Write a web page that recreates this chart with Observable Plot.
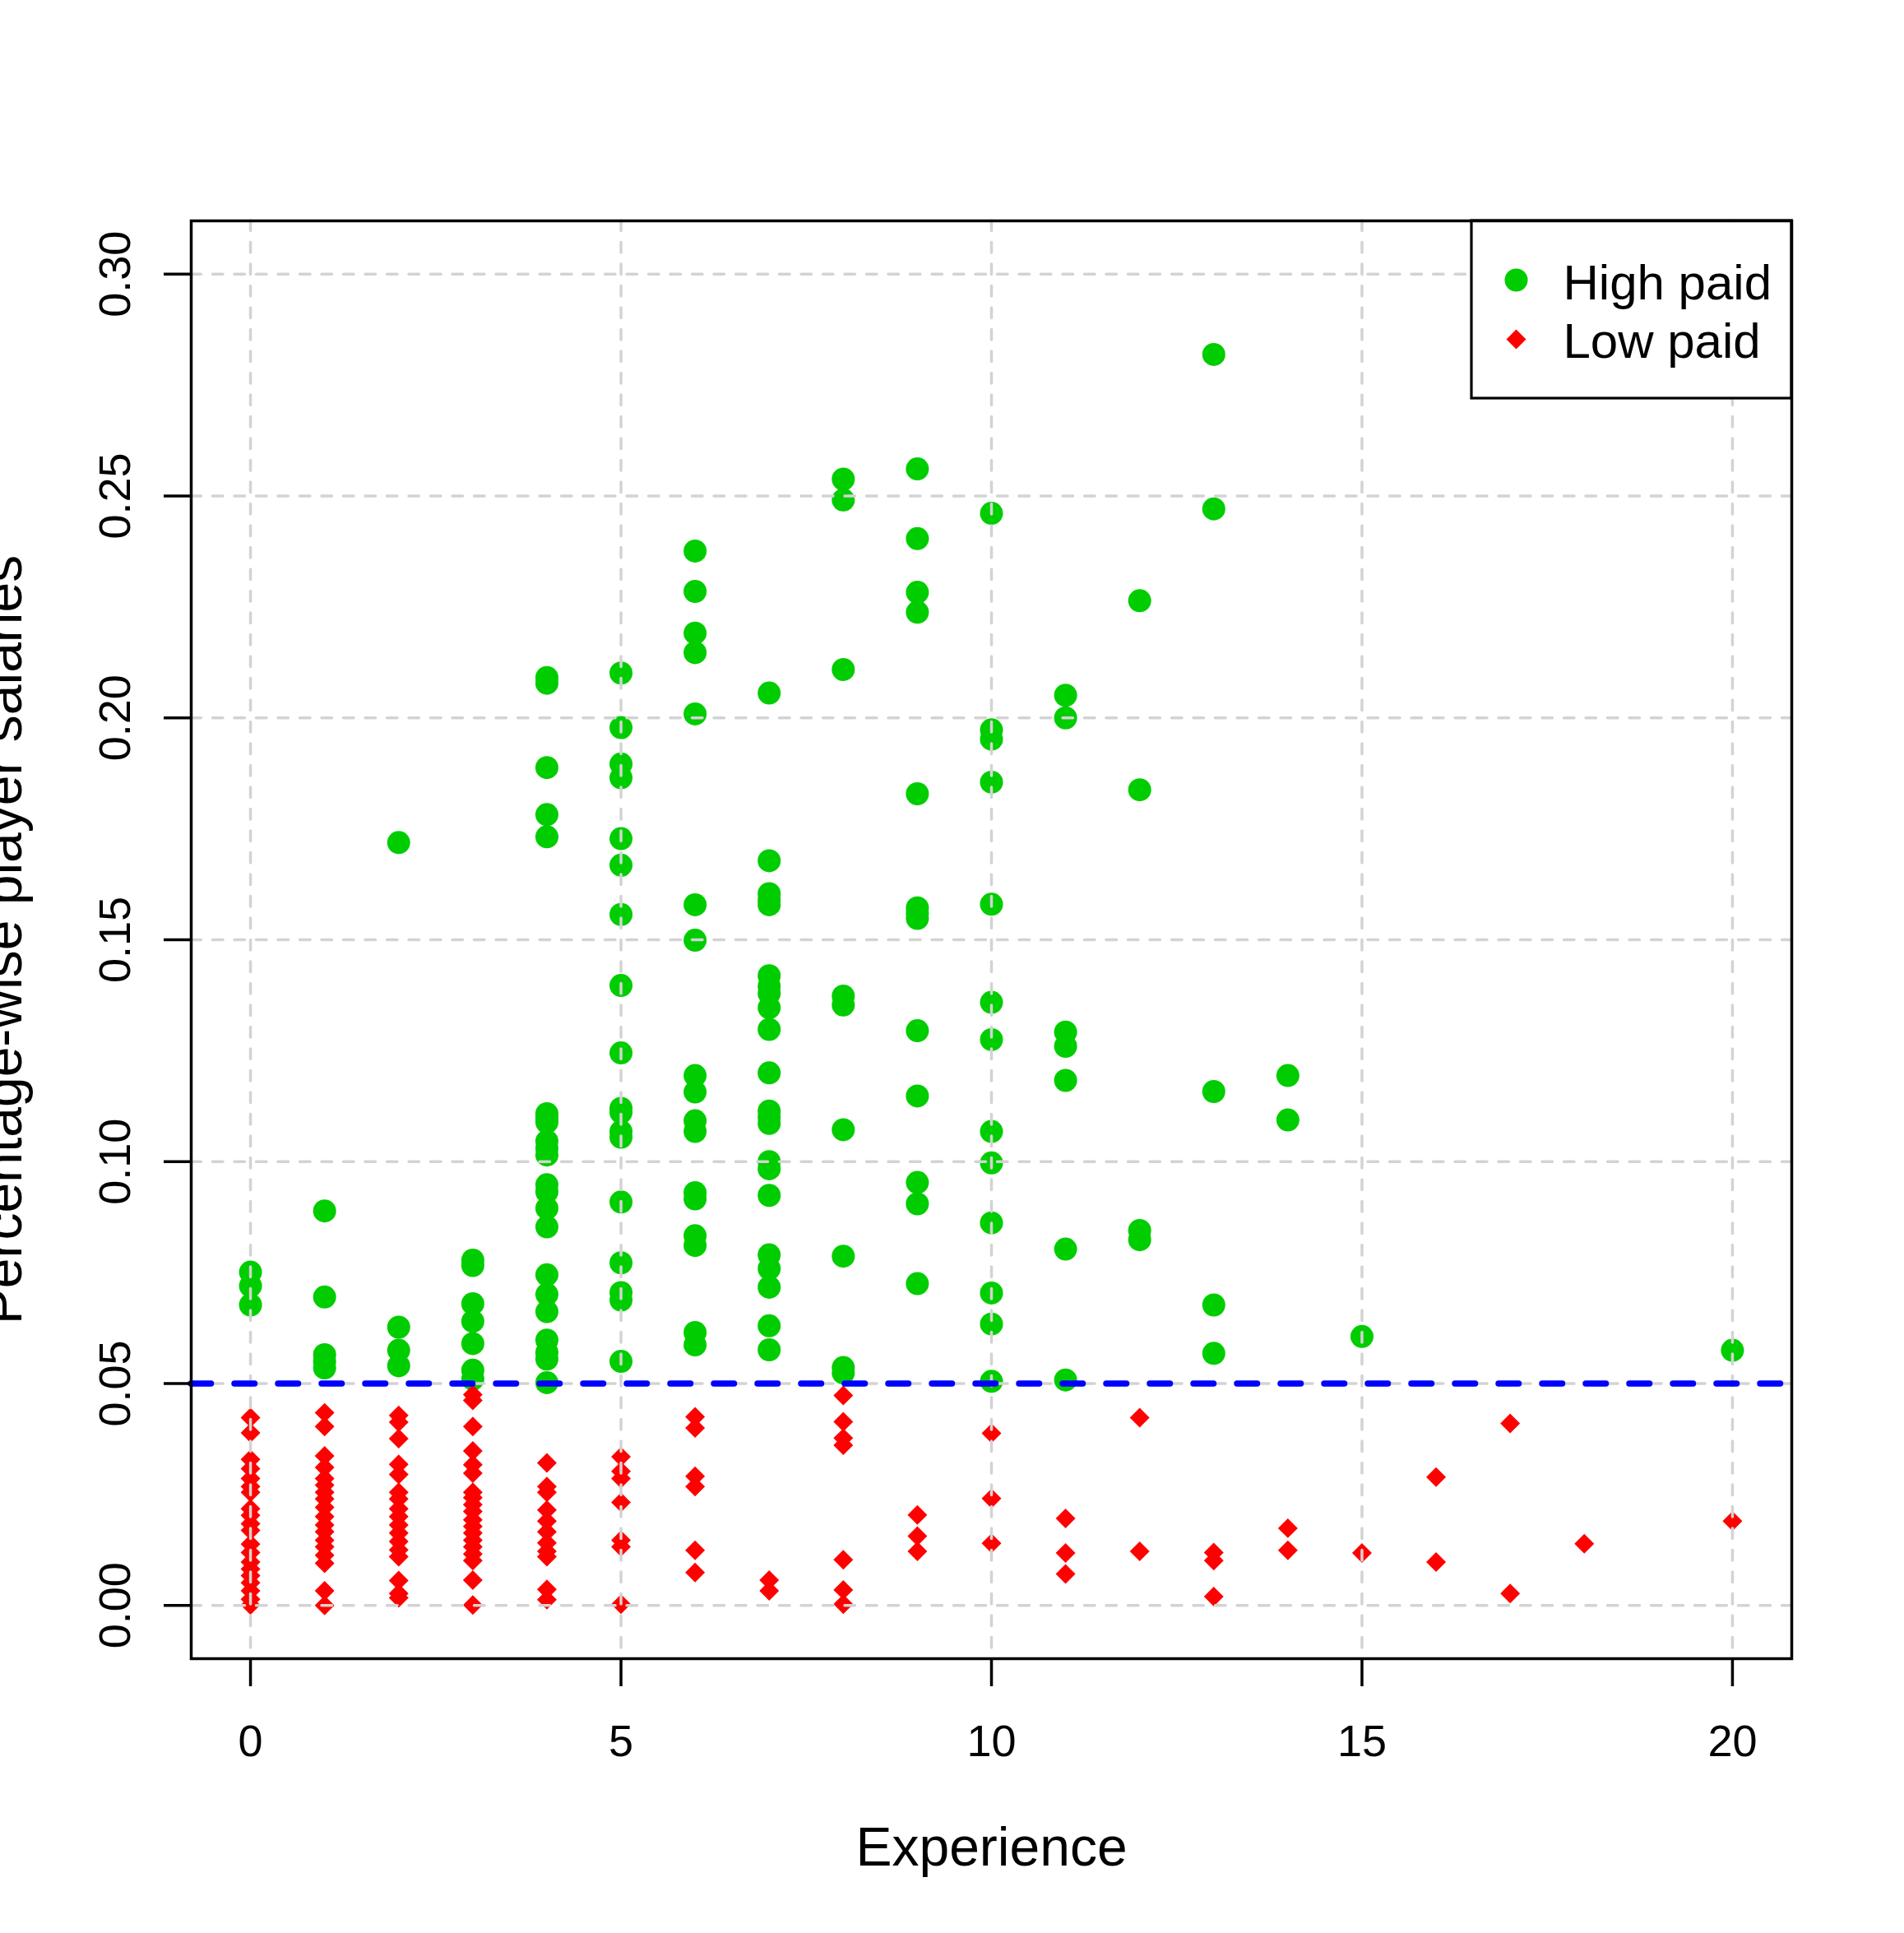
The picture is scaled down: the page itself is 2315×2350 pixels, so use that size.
<!DOCTYPE html>
<html>
<head>
<meta charset="utf-8">
<script src="https://cdn.jsdelivr.net/npm/d3@7"></script>
<script src="https://cdn.jsdelivr.net/npm/@observablehq/plot@0.6"></script>
<style>
html, body { margin: 0; padding: 0; background: #ffffff; overflow: hidden; }
#chart svg { display: block; }
</style>
</head>
<body>
<div id="chart"></div>
<script>
// ---- data ----
const experienceLevels = [0,1,2,3,4,5,6,7,8,9,10,11,12,13,14,15,16,17,18,19,20];

const highPaidShares = [
  [0.0751, 0.0720, 0.0677],
  [0.0889, 0.0695, 0.0565, 0.0550, 0.0535],
  [0.1719, 0.0627, 0.0575, 0.0540],
  [0.0778, 0.0766, 0.0680, 0.0640, 0.0590, 0.0530, 0.0510],
  [0.2091, 0.2078, 0.1888, 0.1782, 0.1732, 0.1108, 0.1098, 0.1089, 0.1046, 0.1030, 0.1015, 0.0948, 0.0932, 0.0895, 0.0853, 0.0745, 0.0701, 0.0662, 0.0598, 0.0570, 0.0555, 0.0502],
  [0.2101, 0.1978, 0.1896, 0.1865, 0.1728, 0.1668, 0.1557, 0.1397, 0.1245, 0.1120, 0.1111, 0.1068, 0.1055, 0.0909, 0.0772, 0.0705, 0.0688, 0.0550],
  [0.2376, 0.2285, 0.2191, 0.2147, 0.2009, 0.1579, 0.1499, 0.1194, 0.1157, 0.1092, 0.1068, 0.0930, 0.0916, 0.0833, 0.0811, 0.0615, 0.0587],
  [0.2056, 0.1678, 0.1604, 0.1590, 0.1579, 0.1419, 0.1395, 0.1379, 0.1347, 0.1298, 0.1200, 0.1114, 0.1100, 0.1086, 0.1000, 0.0984, 0.0924, 0.0790, 0.0759, 0.0717, 0.0630, 0.0576],
  [0.2538, 0.2491, 0.2109, 0.1373, 0.1353, 0.1072, 0.0787, 0.0536, 0.0524],
  [0.2561, 0.2404, 0.2283, 0.2238, 0.1829, 0.1572, 0.1560, 0.1548, 0.1295, 0.1148, 0.0953, 0.0905, 0.0725],
  [0.2461, 0.1973, 0.1952, 0.1855, 0.1580, 0.1359, 0.1275, 0.1068, 0.0997, 0.0862, 0.0704, 0.0634, 0.0505],
  [0.2051, 0.2000, 0.1292, 0.1260, 0.1183, 0.0803, 0.0508],
  [0.2264, 0.1838, 0.0845, 0.0824],
  [0.2819, 0.2471, 0.1158, 0.0677, 0.0568],
  [0.1194, 0.1094],
  [0.0606],
  [],
  [],
  [],
  [],
  [0.0575]
];

const lowPaidShares = [
  [0.0423, 0.0389, 0.0329, 0.0308, 0.0286, 0.0268, 0.0255, 0.0218, 0.0203, 0.0184, 0.0169, 0.0138, 0.0119, 0.0098, 0.0082, 0.0067, 0.0051, 0.0033, 0.0014, 0.0001],
  [0.0434, 0.0403, 0.0337, 0.0311, 0.0286, 0.0271, 0.0255, 0.0240, 0.0221, 0.0200, 0.0181, 0.0166, 0.0147, 0.0132, 0.0113, 0.0095, 0.0033, 0.0000],
  [0.0428, 0.0413, 0.0376, 0.0318, 0.0295, 0.0255, 0.0240, 0.0218, 0.0200, 0.0181, 0.0163, 0.0144, 0.0125, 0.0110, 0.0056, 0.0027, 0.0017],
  [0.0475, 0.0462, 0.0403, 0.0348, 0.0317, 0.0298, 0.0255, 0.0243, 0.0227, 0.0212, 0.0193, 0.0178, 0.0163, 0.0147, 0.0132, 0.0116, 0.0101, 0.0057, 0.0001],
  [0.0321, 0.0268, 0.0255, 0.0215, 0.0190, 0.0166, 0.0141, 0.0122, 0.0110, 0.0036, 0.0013],
  [0.0335, 0.0302, 0.0286, 0.0232, 0.0147, 0.0132, 0.0003],
  [0.0425, 0.0400, 0.0291, 0.0268, 0.0124, 0.0074],
  [0.0057, 0.0033],
  [0.0473, 0.0414, 0.0377, 0.0361, 0.0103, 0.0035, 0.0003],
  [0.0204, 0.0156, 0.0122],
  [0.0388, 0.0241, 0.0140],
  [0.0196, 0.0118, 0.0071],
  [0.0423, 0.0122],
  [0.0119, 0.0101, 0.0020],
  [0.0174, 0.0124],
  [0.0118],
  [0.0289, 0.0098],
  [0.0410, 0.0027],
  [0.0139],
  [],
  [0.0190]
];

const xTicks = [0, 5, 10, 15, 20];
const yTicks = [0, 0.05, 0.10, 0.15, 0.20, 0.25, 0.30];
const yTickLabels = ["0.00", "0.05", "0.10", "0.15", "0.20", "0.25", "0.30"];
const threshold = [0.05];
const legendLabels = ["High paid", "Low paid"];
const xTitle = "Experience";
const yTitle = "Percentage-wise player salaries";

// ---- tables built from the arrays ----
const highPaid = experienceLevels.flatMap((e, i) => highPaidShares[i].map(v => ({experience: e, share: v})));
const lowPaid = experienceLevels.flatMap((e, i) => lowPaidShares[i].map(v => ({experience: e, share: v})));

// ---- layout ----
const W = 2315, H = 2350;
const mL = 232, mR = 137, mT = 268, mB = 334;
const GREEN = "#00CD00", RED = "#FF0000", BLUE = "#0000FF", GRID = "#D3D3D3";
const legendW = 389, legendH = 216;

function legendBox() {
  const g = document.createElementNS("http://www.w3.org/2000/svg", "g");
  const r = document.createElementNS("http://www.w3.org/2000/svg", "rect");
  r.setAttribute("x", W - mR - legendW);
  r.setAttribute("y", mT);
  r.setAttribute("width", legendW);
  r.setAttribute("height", legendH);
  r.setAttribute("fill", "white");
  r.setAttribute("stroke", "black");
  r.setAttribute("stroke-width", 3.2);
  g.appendChild(r);
  return g;
}

const chart = Plot.plot({
  width: W,
  height: H,
  marginLeft: mL,
  marginRight: mR,
  marginTop: mT,
  marginBottom: mB,
  style: {fontFamily: "'Liberation Sans', Arial, Helvetica, sans-serif", background: "white", color: "black", overflow: "visible"},
  x: {domain: [-0.8, 20.8]},
  y: {domain: [-0.012, 0.312]},
  marks: [
    Plot.dot(highPaid, {x: "experience", y: "share", r: 14, fill: GREEN, symbol: "circle"}),
    Plot.dot(lowPaid, {x: "experience", y: "share", r: 10.8, fill: RED, symbol: "diamond2"}),
    Plot.gridX(xTicks, {stroke: GRID, strokeOpacity: 1, strokeWidth: 3.5, strokeDasharray: "12.5,14", strokeLinecap: "round"}),
    Plot.gridY(yTicks, {stroke: GRID, strokeOpacity: 1, strokeWidth: 3.5, strokeDasharray: "12.5,14", strokeLinecap: "round"}),
    Plot.ruleY(threshold, {stroke: BLUE, strokeWidth: 7.5, strokeDasharray: "24.5,28.5", strokeLinecap: "round"}),
    legendBox,
    Plot.dot([legendLabels[0]], {frameAnchor: "top-right", dx: -335, dy: 72, r: 14, fill: GREEN, symbol: "circle"}),
    Plot.dot([legendLabels[1]], {frameAnchor: "top-right", dx: -335, dy: 144, r: 10.8, fill: RED, symbol: "diamond2"}),
    Plot.text([legendLabels[0]], {text: d => d, frameAnchor: "top-right", dx: -278, dy: 95, textAnchor: "start", lineAnchor: "bottom", fontSize: 60, fill: "black"}),
    Plot.text([legendLabels[1]], {text: d => d, frameAnchor: "top-right", dx: -278, dy: 166, textAnchor: "start", lineAnchor: "bottom", fontSize: 60, fill: "black"}),
    Plot.frame({stroke: "black", strokeWidth: 3.5}),
    Plot.axisX({ticks: xTicks, tickSize: 34, tickPadding: 46, fontSize: 54, label: null, strokeWidth: 3.5, fill: "black"}),
    Plot.axisY({ticks: yTicks, tickSize: 33, tickFormat: () => "", label: null, strokeWidth: 3.5}),
    Plot.text(yTicks, {y: d => d, text: (d, i) => yTickLabels[i], frameAnchor: "left", dx: -75, rotate: -90, textAnchor: "middle", lineAnchor: "bottom", fontSize: 54, fill: "black"}),
    Plot.text([xTitle], {text: d => d, frameAnchor: "bottom", dy: 251, textAnchor: "middle", lineAnchor: "bottom", fontSize: 66, fill: "black"}),
    Plot.text([yTitle], {text: d => d, frameAnchor: "left", dx: -207, rotate: -90, textAnchor: "middle", lineAnchor: "bottom", fontSize: 66, fill: "black"})
  ]
});

document.getElementById("chart").appendChild(chart);
</script>
</body>
</html>
